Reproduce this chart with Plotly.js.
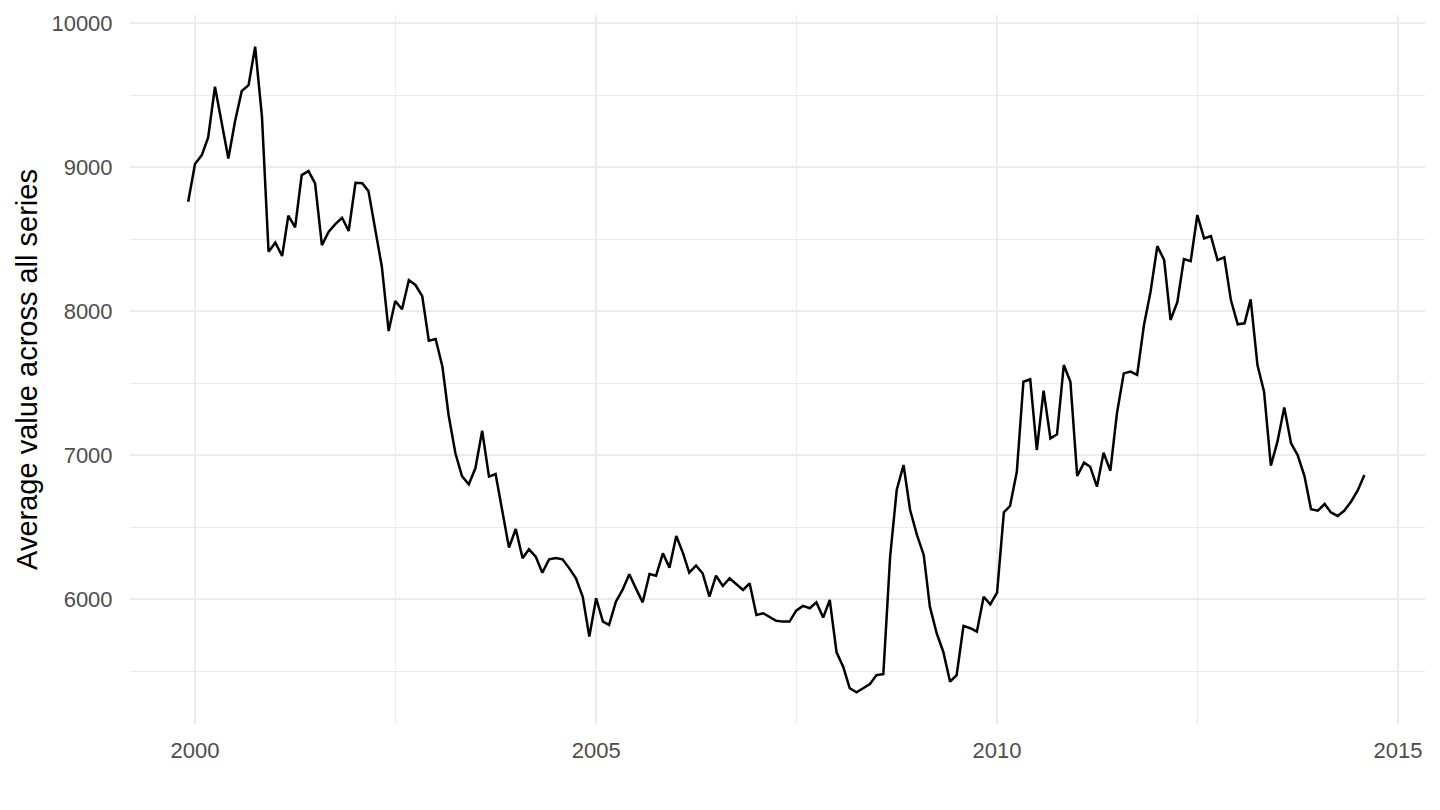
<!DOCTYPE html>
<html>
<head>
<meta charset="utf-8">
<script src="https://cdn.plot.ly/plotly-3.0.1.min.js"></script>
<style>
  html, body { margin: 0; padding: 0; background: #ffffff; }
  #chart { width: 1440px; height: 810px; }
</style>
</head>
<body>
<div id="chart"></div>
<script>
// Monthly series, starting December 1999
const startYear = 1999;
const startMonth = 12;
const avgValues = [
  8759, 9021, 9083, 9206, 9558, 9315, 9060, 9315, 9528, 9569, 9836, 9350,
  8412, 8475, 8382, 8662, 8581, 8944, 8972, 8887, 8458, 8551, 8604, 8648,
  8556, 8891, 8887, 8833, 8563, 8308, 7861, 8070, 8012, 8215, 8181, 8104,
  7794, 7806, 7613, 7278, 7012, 6854, 6797, 6908, 7169, 6850, 6868, 6618,
  6357, 6486, 6283, 6345, 6294, 6183, 6276, 6285, 6276, 6213, 6144, 6016,
  5739, 6005, 5843, 5820, 5981, 6063, 6172, 6074, 5977, 6174, 6162, 6317,
  6218, 6438, 6317, 6183, 6232, 6179, 6016, 6162, 6090, 6144, 6104, 6063,
  6109, 5889, 5901, 5877, 5849, 5843, 5843, 5919, 5952, 5936, 5977, 5871,
  5993, 5630, 5526, 5380, 5352, 5380, 5410, 5472, 5479, 6294, 6757, 6931,
  6618, 6445, 6306, 5947, 5762, 5634, 5426, 5472, 5813, 5797, 5773, 6016,
  5963, 6044, 6602, 6646, 6884, 7509, 7526, 7035, 7447, 7116, 7144, 7625,
  7509, 6854, 6947, 6919, 6780, 7016, 6891, 7290, 7567, 7579, 7556, 7903,
  8134, 8451, 8354, 7938, 8061, 8361, 8347, 8667, 8505, 8521, 8354, 8373,
  8076, 7908, 7915, 8081, 7625, 7440, 6926, 7093, 7331, 7081, 7000, 6854,
  6623, 6613, 6660, 6602, 6577, 6613, 6676, 6752, 6861
];
const xTickVals = ["2000-01-01", "2005-01-01", "2010-01-01", "2015-01-01"];
const xTickText = ["2000", "2005", "2010", "2015"];
const xMinorVals = ["2002-07-02", "2007-07-02", "2012-07-02"];
const yTickVals = [6000, 7000, 8000, 9000, 10000];
const yMinorVals = [5500, 6500, 7500, 8500, 9500];
const yTitle = "Average value across all series";

const dates = avgValues.map((v, i) => {
  const m0 = (startMonth - 1) + i;
  const y = startYear + Math.floor(m0 / 12);
  const m = (m0 % 12) + 1;
  return y + "-" + String(m).padStart(2, "0") + "-01";
});

const trace = {
  x: dates,
  y: avgValues,
  type: "scatter",
  mode: "lines",
  line: { color: "#000000", width: 2.5 },
  hoverinfo: "x+y"
};

const layout = {
  width: 1440,
  height: 810,
  paper_bgcolor: "#ffffff",
  plot_bgcolor: "#ffffff",
  margin: { l: 130, r: 15, t: 15, b: 86 },
  showlegend: false,
  font: { family: "Liberation Sans, Arial, sans-serif", color: "#4d4d4d" },
  xaxis: {
    type: "date",
    range: ["1999-03-11", "2015-05-04"],
    tickmode: "array",
    tickvals: xTickVals,
    ticktext: xTickText,
    tickfont: { size: 22, color: "#4d4d4d" },
    ticks: "outside",
    ticklen: 7,
    tickcolor: "rgba(0,0,0,0)",
    showgrid: true,
    gridcolor: "#ebebeb",
    gridwidth: 2,
    zeroline: false,
    showline: false,
    minor: { tickmode: "array", tickvals: xMinorVals, showgrid: true, gridcolor: "#ebebeb", gridwidth: 1, ticks: "" }
  },
  yaxis: {
    range: [5132, 10056],
    tickmode: "array",
    tickvals: yTickVals,
    ticktext: yTickVals.map(String),
    tickfont: { size: 22, color: "#4d4d4d" },
    ticks: "outside",
    ticklen: 12,
    tickcolor: "rgba(0,0,0,0)",
    showgrid: true,
    gridcolor: "#ebebeb",
    gridwidth: 2,
    zeroline: false,
    showline: false,
    minor: { tickmode: "array", tickvals: yMinorVals, showgrid: true, gridcolor: "#ebebeb", gridwidth: 1, ticks: "" },
    title: { text: yTitle, font: { size: 29, color: "#000000" }, standoff: 5 }
  }
};

Plotly.newPlot("chart", [trace], layout, { displayModeBar: false, staticPlot: true });
</script>
</body>
</html>
